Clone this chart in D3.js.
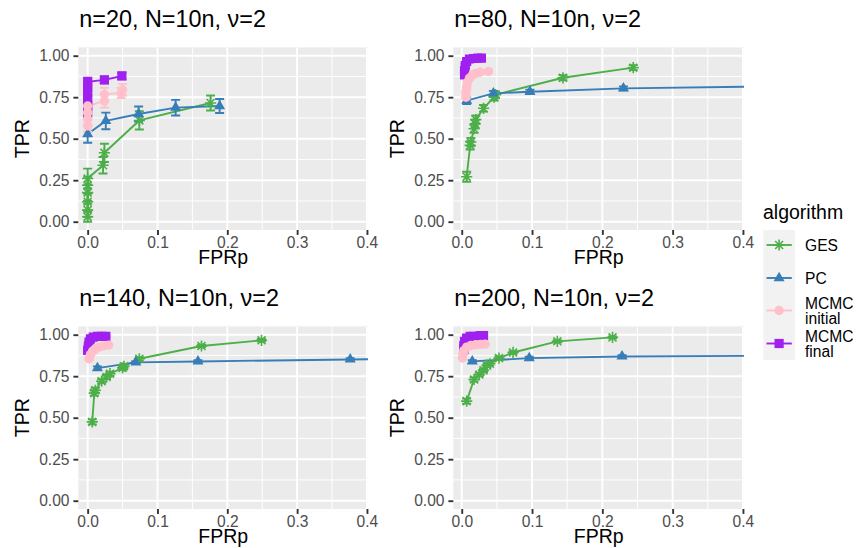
<!DOCTYPE html>
<html><head><meta charset="utf-8">
<script src="https://cdn.jsdelivr.net/npm/d3@7"></script>
<style>body{margin:0;background:#fff}svg{display:block}text{font-family:"Liberation Sans",Arial,sans-serif}</style>
</head><body><svg id="c" width="860" height="548"></svg>
<script>
// ---------- data: [FPRp, TPR, error half-width] ----------
const categories = ["GES", "PC", "MCMC initial", "MCMC final"];
const legendLabels = [["GES"], ["PC"], ["MCMC", "initial"], ["MCMC", "final"]];
const panelTitles = ["n=20, N=10n, \u03bd=2", "n=80, N=10n, \u03bd=2", "n=140, N=10n, \u03bd=2", "n=200, N=10n, \u03bd=2"];
const xTicks = [0, 0.1, 0.2, 0.3, 0.4];
const yTicks = [0, 0.25, 0.5, 0.75, 1];

const n20_GES = [[0,0.03,0.03],[0,0.07,0.04],[0,0.12,0.05],[0,0.175,0.05],[0,0.22,0.05],[0,0.26,0.06],[0.022,0.34,0.05],[0.024,0.415,0.055],[0.074,0.61,0.055],[0.176,0.715,0.045]];
const n20_PC = [[0,0.528,0.052],[0.026,0.607,0.05],[0.073,0.649,0.045],[0.126,0.687,0.047],[0.189,0.697,0.042]];
const n20_init = [[0,0.577,0.035],[0,0.617,0.035],[0,0.657,0.035],[0,0.697,0.035],[0.024,0.727,0.04],[0.024,0.767,0.04],[0.048,0.775,0.03],[0.05,0.795,0.035]];
const n20_final = [[0,0.66,0.03],[0,0.70,0.03],[0,0.74,0.03],[0,0.78,0.03],[0,0.81,0.025],[0,0.843,0.025],[0.024,0.854,0.02],[0.049,0.878,0.02]];

const n80_GES = [[0.007,0.271,0.03],[0.012,0.46,0.025],[0.013,0.48,0.025],[0.0175,0.56,0.025],[0.019,0.59,0.025],[0.02,0.615,0.025],[0.031,0.683,0.02],[0.046,0.75,0.02],[0.048,0.765,0.02],[0.144,0.867,0.015],[0.244,0.928,0.015]];
const n80_PC = [[0.007,0.729,0.02],[0.045,0.773,0.015],[0.097,0.783,0.012],[0.23,0.803,0.012],[0.55,0.822,0.01]];
const n80_init = [[0.006,0.75,0.01],[0.006,0.78,0.01],[0.007,0.81,0.01],[0.008,0.84,0.01],[0.011,0.865,0.01],[0.015,0.882,0.01],[0.02,0.893,0.01],[0.026,0.9,0.01],[0.038,0.905,0.01]];
const n80_final = [[0.004,0.885,0.01],[0.004,0.91,0.01],[0.005,0.94,0.01],[0.007,0.965,0.008],[0.011,0.98,0.006],[0.017,0.983,0.006],[0.023,0.985,0.006],[0.028,0.985,0.006]];

const n140_GES = [[0.0066,0.475,0.015],[0.0095,0.648,0.015],[0.011,0.665,0.015],[0.02,0.72,0.012],[0.027,0.745,0.012],[0.032,0.765,0.012],[0.05,0.8,0.01],[0.052,0.81,0.01],[0.074,0.855,0.01],[0.163,0.932,0.008],[0.249,0.966,0.008]];
const n140_PC = [[0.014,0.799,0.01],[0.069,0.833,0.008],[0.158,0.839,0.008],[0.376,0.851,0.008],[0.6,0.857,0.008]];
const n140_init = [[0.002,0.855,0.008],[0.004,0.88,0.008],[0.007,0.9,0.008],[0.011,0.915,0.007],[0.016,0.925,0.007],[0.022,0.932,0.006],[0.03,0.937,0.006]];
const n140_final = [[0,0.905,0.008],[0.001,0.93,0.008],[0.002,0.955,0.007],[0.004,0.975,0.006],[0.008,0.985,0.005],[0.014,0.99,0.005],[0.02,0.99,0.005],[0.026,0.99,0.005]];

const n200_GES = [[0.007,0.6,0.015],[0.0175,0.73,0.012],[0.025,0.76,0.01],[0.031,0.785,0.01],[0.036,0.815,0.01],[0.04,0.825,0.01],[0.053,0.859,0.01],[0.073,0.893,0.008],[0.136,0.96,0.007],[0.2145,0.984,0.006]];
const n200_PC = [[0.015,0.839,0.008],[0.096,0.859,0.008],[0.228,0.869,0.007],[0.5,0.874,0.007]];
const n200_init = [[0.001,0.86,0.008],[0.002,0.885,0.008],[0.003,0.905,0.007],[0.007,0.925,0.006],[0.013,0.935,0.006],[0.02,0.94,0.005],[0.027,0.942,0.005],[0.033,0.943,0.005]];
const n200_final = [[0.003,0.91,0.008],[0.003,0.935,0.007],[0.004,0.96,0.006],[0.007,0.98,0.005],[0.012,0.99,0.005],[0.017,0.99,0.005],[0.026,0.995,0.005],[0.031,0.995,0.005]];

const panelData = [
  {GES:n20_GES, PC:n20_PC, "MCMC initial":n20_init, "MCMC final":n20_final},
  {GES:n80_GES, PC:n80_PC, "MCMC initial":n80_init, "MCMC final":n80_final},
  {GES:n140_GES, PC:n140_PC, "MCMC initial":n140_init, "MCMC final":n140_final},
  {GES:n200_GES, PC:n200_PC, "MCMC initial":n200_init, "MCMC final":n200_final}
];

// ---------- styles ----------
const colors = {"GES":"#4DAF4A","PC":"#377EB8","MCMC initial":"#FFC0CB","MCMC final":"#A020F0"};
const drawOrder = ["GES","PC","MCMC final","MCMC initial"];
const layout = [
  {left:78.3, top:47.4, w:289.7, h:182.6, xmin:-0.0134},
  {left:453.3, top:47.4, w:290.7, h:182.6, xmin:-0.012},
  {left:78.3, top:326.4, w:289.7, h:182.6, xmin:-0.0134},
  {left:453.3, top:326.4, w:290.7, h:182.6, xmin:-0.012}
];
const FONT_TICK = 15.6, FONT_TITLE = 23.4, FONT_AXIS = 19.5;

const svg = d3.select("#c");

function symbolPath(cat) {
  if (cat === "GES") {
    const a = 5.6, b = a*0.7071;
    return `M${-a},0L${a},0M0,${-a}L0,${a}M${-b},${-b}L${b},${b}M${-b},${b}L${b},${-b}`;
  }
  if (cat === "PC") {
    const s = 11, hgt = s*0.866, r = hgt*2/3;
    return `M0,${-r}L${s/2},${hgt-r}L${-s/2},${hgt-r}Z`;
  }
  if (cat === "MCMC final") { const s = 4.6; return `M${-s},${-s}H${s}V${s}H${-s}Z`; }
  return d3.symbol(d3.symbolCircle, Math.PI*4.7*4.7)();
}
function drawSymbol(g, cat, x, y) {
  const p = g.append("path").attr("d", symbolPath(cat)).attr("transform", `translate(${x},${y})`);
  if (cat === "GES") p.attr("fill","none").attr("stroke", colors[cat]).attr("stroke-width", 1.6);
  else p.attr("fill", colors[cat]);
}

layout.forEach((L, i) => {
  const x = d3.scaleLinear().domain([L.xmin, 0.4 + 0.0015]).range([L.left, L.left + L.w]);
  const y = d3.scaleLinear().domain([-0.05, 1.05]).range([L.top + L.h, L.top]);
  const g = svg.append("g");
  const clipId = "clip" + i;
  svg.append("clipPath").attr("id", clipId).append("rect")
    .attr("x", L.left).attr("y", L.top).attr("width", L.w).attr("height", L.h);

  g.append("rect").attr("x", L.left).attr("y", L.top).attr("width", L.w).attr("height", L.h).attr("fill", "#EBEBEB");
  const grid = g.append("g").attr("clip-path", `url(#${clipId})`);
  [0.05,0.15,0.25,0.35].forEach(v => grid.append("line").attr("x1", x(v)).attr("x2", x(v)).attr("y1", L.top).attr("y2", L.top+L.h).attr("stroke","#fff").attr("stroke-width",0.95));
  [0.125,0.375,0.625,0.875].forEach(v => grid.append("line").attr("y1", y(v)).attr("y2", y(v)).attr("x1", L.left).attr("x2", L.left+L.w).attr("stroke","#fff").attr("stroke-width",0.95));
  xTicks.forEach(v => grid.append("line").attr("x1", x(v)).attr("x2", x(v)).attr("y1", L.top).attr("y2", L.top+L.h).attr("stroke","#fff").attr("stroke-width",1.9));
  yTicks.forEach(v => grid.append("line").attr("y1", y(v)).attr("y2", y(v)).attr("x1", L.left).attr("x2", L.left+L.w).attr("stroke","#fff").attr("stroke-width",1.9));

  const xAxis = d3.axisBottom(x).tickValues(xTicks).tickFormat(d3.format(".1f")).tickSize(4.9).tickPadding(2.4);
  const yAxis = d3.axisLeft(y).tickValues(yTicks).tickFormat(d3.format(".2f")).tickSize(4.9).tickPadding(3.9);
  const gx = svg.append("g").attr("transform", `translate(0,${L.top+L.h})`).call(xAxis);
  const gy = svg.append("g").attr("transform", `translate(${L.left},0)`).call(yAxis);
  [gx, gy].forEach(a => {
    a.select(".domain").remove();
    a.selectAll(".tick line").attr("stroke", "#333333").attr("stroke-width", 1.9);
    a.selectAll(".tick text").attr("fill", "#4D4D4D").style("font-size", FONT_TICK + "px")
      .style("font-family", '"Liberation Sans",Arial,sans-serif');
  });

  const data = panelData[i];
  const layer = g.append("g").attr("clip-path", `url(#${clipId})`);
  const line = d3.line().x(d => x(d[0])).y(d => y(d[1]));
  drawOrder.forEach(cat => {
    const pts = data[cat].slice().sort((a, b) => a[0] - b[0]);
    layer.append("path").attr("d", line(pts)).attr("fill", "none")
      .attr("stroke", colors[cat]).attr("stroke-width", 1.9);
  });
  drawOrder.forEach(cat => {
    data[cat].forEach(d => {
      const cx = x(d[0]), y0 = y(d[1] - d[2]), y1 = y(d[1] + d[2]), hw = 4.5;
      layer.append("path").attr("d", `M${cx-hw},${y0}H${cx+hw}M${cx},${y0}V${y1}M${cx-hw},${y1}H${cx+hw}`)
        .attr("fill","none").attr("stroke", colors[cat]).attr("stroke-width", 1.9);
    });
  });
  drawOrder.forEach(cat => {
    data[cat].forEach(d => drawSymbol(layer, cat, x(d[0]), y(d[1])));
  });

  svg.append("text").attr("x", L.left + 1).attr("y", L.top - 20.5).text(panelTitles[i])
    .style("font-size", FONT_TITLE + "px").attr("fill", "#000");
  svg.append("text").attr("x", L.left + L.w/2).attr("y", L.top + L.h + 34).attr("text-anchor","middle")
    .text("FPRp").style("font-size", FONT_AXIS + "px").attr("fill","#000");
  svg.append("text").attr("transform", `translate(${L.left - 49},${L.top + L.h/2}) rotate(-90)`)
    .attr("text-anchor","middle").text("TPR").style("font-size", FONT_AXIS + "px").attr("fill","#000");
});

// ---------- legend ----------
const lg = svg.append("g");
lg.append("text").attr("x", 763).attr("y", 218.5).text("algorithm").style("font-size", FONT_AXIS + "px");
const keyCenters = [245, 278, 310.5, 343.5];
lg.append("rect").attr("x", 763.3).attr("y", 230).attr("width", 31.7).attr("height", 130).attr("fill", "#F2F2F2");
categories.forEach((cat, k) => {
  const cy = keyCenters[k];
  lg.append("line").attr("x1", 766.5).attr("x2", 791.8).attr("y1", cy).attr("y2", cy)
    .attr("stroke", colors[cat]).attr("stroke-width", 1.9);
  drawSymbol(lg, cat, 779.1, cy);
  const lines = legendLabels[k];
  lines.forEach((t, j) => {
    const base = lines.length === 1 ? cy + 5.6 : cy - 7.5 + j*15 + 5.6;
    lg.append("text").attr("x", 805).attr("y", base).text(t).style("font-size", FONT_TICK + "px").attr("fill","#000");
  });
});
</script></body></html>
